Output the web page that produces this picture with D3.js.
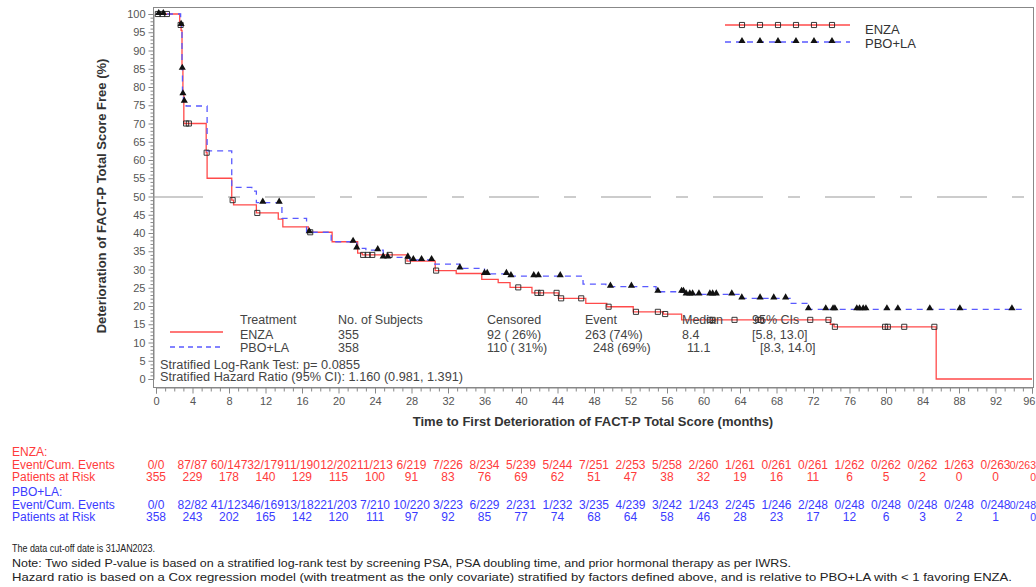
<!DOCTYPE html>
<html>
<head>
<meta charset="utf-8">
<script src="https://cdn.jsdelivr.net/npm/d3@7"></script>
<style>
  body { margin: 0; background: #fff; }
  svg { font-family: "Liberation Sans", Arial, sans-serif; }
</style>
</head>
<body>
<svg id="chart" width="1036" height="587"></svg>
<script>
// KM step data (time in months, % free)
var enzaTimes = [0, 2.6, 2.75, 2.85, 2.95, 3.05, 5.5, 5.6, 8.3, 8.5, 11.0, 13.4, 13.9, 16.7, 19.3, 22.1, 22.6, 27.5, 30.6, 32.9, 35.7, 37.5, 38.8, 41.2, 44.1, 47.1, 49.4, 52.3, 55.6, 57.6, 73.9, 74.3, 85.5, 96]
var enzaSurv  = [100, 97, 95.5, 85, 78, 70, 62, 55, 49, 47.7, 45.5, 43.8, 41.7, 40.2, 37.6, 34.5, 34, 32.3, 29.7, 28.9, 27.3, 26.4, 25.1, 23.6, 22.1, 20.7, 19.8, 18.4, 17.8, 16.2, 15.0, 14.3, 0, 0]
var pboTimes  = [0, 2.7, 2.8, 2.85, 2.9, 3.0, 3.3, 5.6, 8.3, 10.5, 11.0, 13.8, 16.5, 19.2, 22.0, 23.0, 24.9, 27.8, 30.4, 33.3, 36.0, 38.5, 46.8, 49.3, 54.8, 58.0, 64.2, 69.5, 71.5, 95.2]
var pboSurv   = [100, 97, 95.5, 85, 78, 76, 74.8, 62.5, 52.5, 51.5, 48.3, 44, 40.2, 37.6, 35.8, 35.3, 33.3, 32.6, 31.5, 30.3, 28.8, 28.2, 26, 25.3, 23.9, 23.2, 22.1, 20.7, 19.1, 19.1]

// censoring times
var enzaCensor = [0.2, 0.7, 1.2, 2.7, 3.3, 3.6, 5.55, 8.4, 11.1, 16.9, 22.7, 23.2, 23.7, 25.6, 27.6, 30.7, 39.7, 41.8, 42.2, 43.9, 44.4, 46.6, 49.6, 52.6, 55.0, 55.8, 60.7, 61.0, 63.4, 66.0, 66.3, 71.7, 73.7, 74.4, 79.9, 80.2, 82.0, 85.3]
var pboCensor  = [0.3, 0.8, 2.75, 2.88, 2.95, 3.1, 11.7, 13.5, 16.8, 21.6, 22.0, 24.3, 24.9, 25.4, 27.6, 28.2, 29.1, 30.2, 33.3, 36.0, 36.3, 38.4, 38.9, 41.4, 41.9, 44.3, 49.8, 52.1, 55.0, 57.6, 57.8, 58.1, 58.5, 58.8, 59.5, 60.7, 61.0, 61.4, 63.1, 64.2, 66.2, 67.7, 69.0, 71.5, 73.4, 74.2, 74.4, 76.8, 77.1, 77.5, 77.8, 80.1, 81.3, 84.8, 88.1, 93.8]

// risk table
var riskTimes = d3.range(0, 97, 4)
var enzaEvents = ["0/0", "87/87", "60/147", "32/179", "11/190", "12/202", "11/213", "6/219", "7/226", "8/234", "5/239", "5/244", "7/251", "2/253", "5/258", "2/260", "1/261", "0/261", "0/261", "1/262", "0/262", "0/262", "1/263", "0/263", "0/263"]
var enzaRisk   = [355, 229, 178, 140, 129, 115, 100, 91, 83, 76, 69, 62, 51, 47, 38, 32, 19, 16, 11, 6, 5, 2, 0, 0, 0]
var pboEvents  = ["0/0", "82/82", "41/123", "46/169", "13/182", "21/203", "7/210", "10/220", "3/223", "6/229", "2/231", "1/232", "3/235", "4/239", "3/242", "1/243", "2/245", "1/246", "2/248", "0/248", "0/248", "0/248", "0/248", "0/248", "0/248"]
var pboRisk    = [358, 243, 202, 165, 142, 120, 111, 97, 92, 85, 77, 74, 68, 64, 58, 46, 28, 23, 17, 12, 6, 3, 2, 1, 0]

var statHeader = ["Treatment", "No. of Subjects", "Censored", "Event", "Median", "95% CIs"]
var statEnza   = ["ENZA", "355", "92 ( 26%)", "263 (74%)", "8.4", "[5.8, 13.0]"]
var statPbo    = ["PBO+LA", "358", "110 ( 31%)", "248 (69%)", "11.1", "[8.3, 14.0]"]

var footnotes = [
    "The data cut-off date is 31JAN2023.",
    "Note: Two sided P-value is based on a stratified log-rank test by screening PSA, PSA doubling time, and prior hormonal therapy as per IWRS.",
    "Hazard ratio is based on a Cox regression model (with treatment as the only covariate) stratified by factors defined above, and is relative to PBO+LA with < 1 favoring ENZA."
]
var footWidths = [143, 779, 1000]

var red = "#ff4a4a", blue = "#5a5aff", txtRed = "#ff3b3b", txtBlue = "#3b3bff"

var svg = d3.select("#chart")

var x = d3.scaleLinear().domain([0, 96]).range([156, 1032])
var y = d3.scaleLinear().domain([0, 100]).range([379, 14])

// frame
svg.append("rect")
    .attr("x", 153.5).attr("y", 7.5)
    .attr("width", 880).attr("height", 380)
    .attr("fill", "none").attr("stroke", "#888").attr("stroke-width", 1)

// y axis
var yAxis = svg.append("g").attr("transform", "translate(153.5,0)")
yAxis.call(d3.axisLeft(y).tickValues(d3.range(0, 101, 5)).tickSize(5).tickPadding(3))
yAxis.selectAll("line.minor")
    .data(d3.range(0, 101, 1).filter(function(d) { return d % 5 != 0 }))
    .enter().append("line")
    .attr("class", "minor")
    .attr("x1", -3).attr("x2", 0)
    .attr("y1", function(d) { return y(d) + 0.5 }).attr("y2", function(d) { return y(d) + 0.5 })
    .attr("stroke", "#888")

// x axis
var xAxis = svg.append("g").attr("transform", "translate(0,387.5)")
xAxis.call(d3.axisBottom(x).tickValues(riskTimes).tickSize(6).tickPadding(4))
xAxis.selectAll("line.minor")
    .data(d3.range(0, 97, 1).filter(function(d) { return d % 4 != 0 }))
    .enter().append("line")
    .attr("class", "minor")
    .attr("x1", function(d) { return x(d) + 0.5 }).attr("x2", function(d) { return x(d) + 0.5 })
    .attr("y1", 0).attr("y2", 4)
    .attr("stroke", "#888")
// last label sits on the window edge
xAxis.selectAll(".tick text").filter(function(d) { return d == 96 })
    .attr("text-anchor", "end").attr("dx", "3")

svg.selectAll(".domain").attr("stroke", "#888")
svg.selectAll(".tick line").attr("stroke", "#888")
svg.selectAll(".tick text").attr("fill", "#555").style("font-size", "11px")

// axis titles
svg.append("text")
    .attr("transform", "translate(106,196) rotate(-90)")
    .attr("text-anchor", "middle")
    .style("font-size", "13px").style("font-weight", "bold").attr("fill", "#333")
    .text("Deterioration of FACT-P Total Score Free (%)")

svg.append("text")
    .attr("x", 593).attr("y", 426)
    .attr("text-anchor", "middle")
    .style("font-size", "13px").style("font-weight", "bold").attr("fill", "#333")
    .text("Time to First Deterioration of FACT-P Total Score (months)")

// median reference
svg.append("line")
    .attr("x1", x(0) - 3).attr("x2", x(96))
    .attr("y1", y(50) + 0.5).attr("y2", y(50) + 0.5)
    .attr("stroke", "#999").attr("stroke-dasharray", "50,25,12,25")

// curves
var line = d3.line()
    .x(function(d) { return x(d[0]) })
    .y(function(d) { return y(d[1]) })
    .curve(d3.curveStepAfter)

function stepValue(times, surv, t) {
    var i = d3.bisectRight(times, t) - 1
    return surv[Math.max(i, 0)]
}

svg.append("path")
    .datum(d3.zip(enzaTimes, enzaSurv))
    .attr("d", line).attr("fill", "none")
    .attr("stroke", red).attr("stroke-width", 1.3)

svg.append("path")
    .datum(d3.zip(pboTimes, pboSurv))
    .attr("d", line).attr("fill", "none")
    .attr("stroke", blue).attr("stroke-width", 1.3)
    .attr("stroke-dasharray", "6,5")

var square = d3.symbol().type(d3.symbolSquare).size(26)
var tri = d3.symbol().type(d3.symbolTriangle).size(22)

svg.selectAll(".cens-enza")
    .data(enzaCensor)
    .enter().append("path")
    .attr("class", "cens-enza")
    .attr("d", square)
    .attr("transform", function(d) { return "translate(" + x(d) + "," + y(stepValue(enzaTimes, enzaSurv, d)) + ")" })
    .attr("fill", "none").attr("stroke", "#222").attr("stroke-width", 0.9)

svg.selectAll(".cens-pbo")
    .data(pboCensor)
    .enter().append("path")
    .attr("class", "cens-pbo")
    .attr("d", tri)
    .attr("transform", function(d) { return "translate(" + x(d) + "," + (y(stepValue(pboTimes, pboSurv, d)) - 1) + ")" })
    .attr("fill", "#111")

// legend top right
var legend = svg.append("g")
var legMarks = d3.range(6).map(function(i) { return 742 + i * 18 })
legend.append("line").attr("x1", 725).attr("x2", 850).attr("y1", 25).attr("y2", 25)
    .attr("stroke", red).attr("stroke-width", 1.3)
legend.append("line").attr("x1", 725).attr("x2", 850).attr("y1", 42).attr("y2", 42)
    .attr("stroke", blue).attr("stroke-width", 1.3).attr("stroke-dasharray", "6,5")
legend.selectAll(".lsq").data(legMarks).enter().append("path")
    .attr("d", square).attr("transform", function(d) { return "translate(" + d + ",25)" })
    .attr("fill", "none").attr("stroke", "#222").attr("stroke-width", 0.9)
legend.selectAll(".ltri").data(legMarks).enter().append("path")
    .attr("d", tri).attr("transform", function(d) { return "translate(" + d + ",41)" })
    .attr("fill", "#111")
legend.append("text").attr("x", 865).attr("y", 34).style("font-size", "13px").attr("fill", "#333").text("ENZA")
legend.append("text").attr("x", 865).attr("y", 48).style("font-size", "13px").attr("fill", "#333").text("PBO+LA")

// stats table inside plot
var statX = [240, 338, 487, 585, 682, 752]
var statX2 = [240, 338, 487, 593, 687, 760]
var stats = svg.append("g").style("font-size", "12.5px").attr("fill", "#444")
stats.selectAll(".sh").data(statHeader).enter().append("text")
    .attr("x", function(d, i) { return statX[i] }).attr("y", 324).text(function(d) { return d })
stats.selectAll(".se").data(statEnza).enter().append("text")
    .attr("x", function(d, i) { return statX[i] }).attr("y", 339).text(function(d) { return d })
stats.selectAll(".sp").data(statPbo).enter().append("text")
    .attr("x", function(d, i) { return statX2[i] }).attr("y", 352).text(function(d) { return d })
stats.append("line").attr("x1", 170).attr("x2", 223).attr("y1", 332).attr("y2", 332)
    .attr("stroke", red).attr("stroke-width", 1.3)
stats.append("line").attr("x1", 170).attr("x2", 223).attr("y1", 347).attr("y2", 347)
    .attr("stroke", blue).attr("stroke-width", 1.3).attr("stroke-dasharray", "5,4")
stats.append("text").attr("x", 160).attr("y", 369)
    .attr("textLength", 200).attr("lengthAdjust", "spacingAndGlyphs")
    .text("Stratified Log-Rank Test: p= 0.0855")
stats.append("text").attr("x", 160).attr("y", 381)
    .attr("textLength", 303).attr("lengthAdjust", "spacingAndGlyphs")
    .text("Stratified Hazard Ratio (95% CI): 1.160 (0.981, 1.391)")

// risk table
var risk = svg.append("g").style("font-size", "12px")
function riskLabel(txt, yy, col) {
    risk.append("text").attr("x", 12).attr("y", yy).attr("fill", col).text(txt)
}
function riskRow(vals, yy, col) {
    var last = vals.length - 1
    risk.selectAll(null).data(vals).enter().append("text")
        .attr("x", function(d, i) { return i == last ? 1036 : x(riskTimes[i]) })
        .attr("y", yy)
        .attr("text-anchor", function(d, i) { return i == last ? "end" : "middle" })
        .style("font-size", function(d, i) { return i == last ? "10.5px" : null })
        .attr("fill", col)
        .text(function(d) { return d })
}
riskLabel("ENZA:", 456, txtRed)
riskLabel("Event/Cum. Events", 469, txtRed)
riskLabel("Patients at Risk", 481, txtRed)
riskRow(enzaEvents, 469, txtRed)
riskRow(enzaRisk, 481, txtRed)
riskLabel("PBO+LA:", 496, txtBlue)
riskLabel("Event/Cum. Events", 509, txtBlue)
riskLabel("Patients at Risk", 521, txtBlue)
riskRow(pboEvents, 509, txtBlue)
riskRow(pboRisk, 521, txtBlue)

// footnotes
svg.selectAll(".fn").data(footnotes).enter().append("text")
    .attr("x", 12).attr("y", function(d, i) { return 552 + i * 14.5 })
    .attr("textLength", function(d, i) { return footWidths[i] })
    .attr("lengthAdjust", "spacingAndGlyphs")
    .style("font-size", "11.5px").attr("fill", "#222")
    .text(function(d) { return d })
</script>
</body>
</html>
